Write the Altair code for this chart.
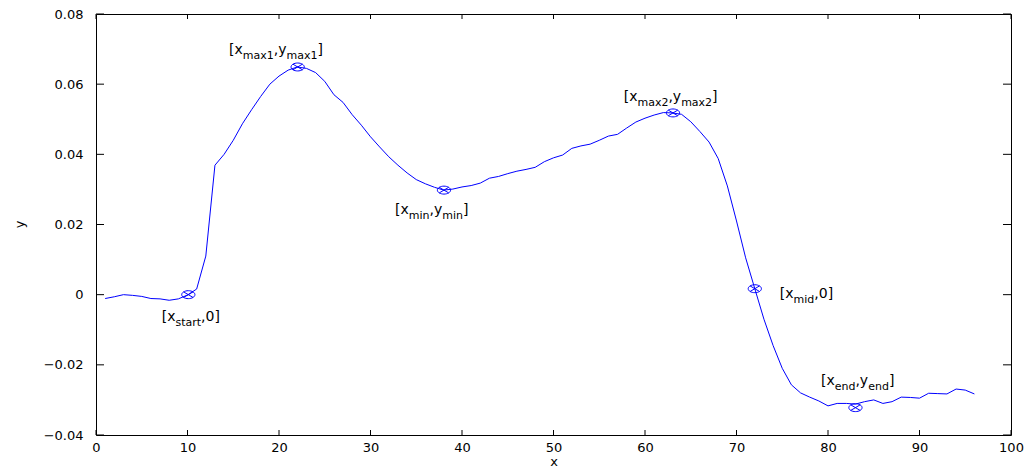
import altair as alt
import pandas as pd

# ---- data ----
x_vals = list(range(1, 97))
y_vals = [
    -0.0011, -0.0006, 0.0000, -0.0002, -0.0005, -0.0011, -0.0012, -0.0016, -0.0012, -0.0001,
    0.0016, 0.0110, 0.0369, 0.0400, 0.0440, 0.0487, 0.0527, 0.0565, 0.0600, 0.0623,
    0.0640, 0.0649, 0.0645, 0.0633, 0.0608, 0.0570, 0.0548, 0.0513, 0.0483, 0.0450,
    0.0421, 0.0393, 0.0369, 0.0347, 0.0328, 0.0316, 0.0306, 0.0298, 0.0301, 0.0307,
    0.0311, 0.0318, 0.0332, 0.0337, 0.0345, 0.0352, 0.0357, 0.0363, 0.0379, 0.0390,
    0.0398, 0.0417, 0.0424, 0.0429, 0.0440, 0.0452, 0.0457, 0.0475, 0.0492, 0.0503,
    0.0512, 0.0519, 0.0518, 0.0514, 0.0493, 0.0465, 0.0435, 0.0388, 0.0310, 0.0210,
    0.0105, 0.0017, -0.0070, -0.0145, -0.0210, -0.0257, -0.0280, -0.0292, -0.0303, -0.0317,
    -0.0310, -0.0310, -0.0312, -0.0305, -0.0300, -0.0310, -0.0305, -0.0292, -0.0293, -0.0295,
    -0.0281, -0.0282, -0.0283, -0.0269, -0.0272, -0.0283,
]

marker_x = [10.09, 22.04, 38.03, 63.06, 72.0, 83.0]
marker_y = [0.0, 0.0649, 0.0298, 0.0518, 0.0017, -0.0322]

# label pieces: (text, is_subscript)
label_pieces = [
    [("[x", 0), ("start", 1), (",0]", 0)],
    [("[x", 0), ("max1", 1), (",y", 0), ("max1", 1), ("]", 0)],
    [("[x", 0), ("min", 1), (",y", 0), ("min", 1), ("]", 0)],
    [("[x", 0), ("max2", 1), (",y", 0), ("max2", 1), ("]", 0)],
    [("[x", 0), ("mid", 1), (",0]", 0)],
    [("[x", 0), ("end", 1), (",y", 0), ("end", 1), ("]", 0)],
]
label_x = [10.36, 19.67, 36.69, 62.80, 77.65, 83.24]
label_y = [-0.0063, 0.0697, 0.0241, 0.0563, 0.0003, -0.0246]

x_ticks = [0, 10, 20, 30, 40, 50, 60, 70, 80, 90, 100]
y_ticks = [-0.04, -0.02, 0.0, 0.02, 0.04, 0.06, 0.08]

# ---- styling ----
W, H = 915, 421
FONT = "DejaVu Sans"
BLUE = "#0000ff"
MAIN_FS, SUB_FS = 14, 11

# approximate DejaVu Sans advance widths (em)
ADV = {"[": 0.390, "]": 0.390, "x": 0.592, "y": 0.592, ",": 0.318, "0": 0.636,
       "1": 0.636, "2": 0.636, "s": 0.521, "t": 0.392, "a": 0.613, "r": 0.411,
       "m": 0.974, "i": 0.278, "n": 0.634, "d": 0.635, "e": 0.615}


def text_width(s, fs):
    return sum(ADV.get(c, 0.6) for c in s) * fs


xscale = alt.Scale(domain=[0, 100], nice=False, zero=False)
yscale = alt.Scale(domain=[-0.04, 0.08], nice=False, zero=False)

line_df = pd.DataFrame({"x": x_vals, "y": y_vals})
line = alt.Chart(line_df).mark_line(color=BLUE, strokeWidth=1).encode(
    x=alt.X("x:Q", scale=xscale, axis=alt.Axis(
        values=x_ticks, title="x", domain=False, ticks=False, grid=False,
        labelFont=FONT, labelFontSize=13, labelColor="black", labelPadding=6,
        labelFlush=False, labelOverlap=False,
        titleFont=FONT, titleFontSize=13, titleFontWeight="normal", titleColor="black",
        titleY=30, titleBaseline="alphabetic")),
    y=alt.Y("y:Q", scale=yscale, axis=alt.Axis(
        values=y_ticks, title="y", domain=False, ticks=False, grid=False,
        labelExpr="datum.value == 0 ? '0' : format(datum.value, '.2f')",
        labelFont=FONT, labelFontSize=13, labelColor="black", labelPadding=13,
        labelFlush=False, labelOverlap=False,
        titleFont=FONT, titleFontSize=13, titleFontWeight="normal", titleColor="black",
        titleX=-77, titleY=210, titleAngle=270, titleBaseline="middle", titleAlign="center")),
)

symbol = ("M-1,0 A1,0.6 0 1,0 1,0 A1,0.6 0 1,0 -1,0 Z "
          "M-0.71,-0.42 L0.71,0.42 M-0.71,0.42 L0.71,-0.42")
mk_df = pd.DataFrame({"x": marker_x, "y": marker_y})
markers = alt.Chart(mk_df).mark_point(
    shape=symbol, size=175, filled=False, color=BLUE, strokeWidth=1, opacity=1
).encode(x=alt.X("x:Q", scale=xscale), y=alt.Y("y:Q", scale=yscale))

# inward ticks on all four sides
xt_df = pd.DataFrame({"v": x_ticks})
yt_df = pd.DataFrame({"v": y_ticks})
tick_x_bottom = alt.Chart(xt_df).mark_rule(color="black", strokeWidth=1).encode(
    x=alt.X("v:Q", scale=xscale), y=alt.value(H), y2=alt.value(H - 5))
tick_x_top = alt.Chart(xt_df).mark_rule(color="black", strokeWidth=1).encode(
    x=alt.X("v:Q", scale=xscale), y=alt.value(0), y2=alt.value(5))
tick_y_left = alt.Chart(yt_df).mark_rule(color="black", strokeWidth=1).encode(
    y=alt.Y("v:Q", scale=yscale), x=alt.value(0), x2=alt.value(8))
tick_y_right = alt.Chart(yt_df).mark_rule(color="black", strokeWidth=1).encode(
    y=alt.Y("v:Q", scale=yscale), x=alt.value(W - 8), x2=alt.value(W))

layers = [line, markers, tick_x_bottom, tick_x_top, tick_y_left, tick_y_right]

# annotation labels with subscripts built from pieces
for pieces, lx, ly in zip(label_pieces, label_x, label_y):
    total = sum(text_width(t, SUB_FS if s else MAIN_FS) for t, s in pieces)
    off = -total / 2.0
    for t, s in pieces:
        fs = SUB_FS if s else MAIN_FS
        piece = alt.Chart(pd.DataFrame({"x": [lx], "y": [ly], "t": [t]})).mark_text(
            align="left", baseline="alphabetic", font=FONT, fontSize=fs,
            color="black", dx=off, dy=9 if s else 4,
        ).encode(x=alt.X("x:Q", scale=xscale), y=alt.Y("y:Q", scale=yscale), text="t:N")
        layers.append(piece)
        off += text_width(t, fs)

chart = alt.layer(*layers).properties(
    width=W, height=H,
    autosize=alt.AutoSizeParams(type="none"),
    padding={"left": 96, "top": 14, "right": 14, "bottom": 32},
    background="white",
).configure_view(stroke="black", strokeWidth=1)

chart.save("out.html", embed_options={"renderer": "svg", "actions": False})
